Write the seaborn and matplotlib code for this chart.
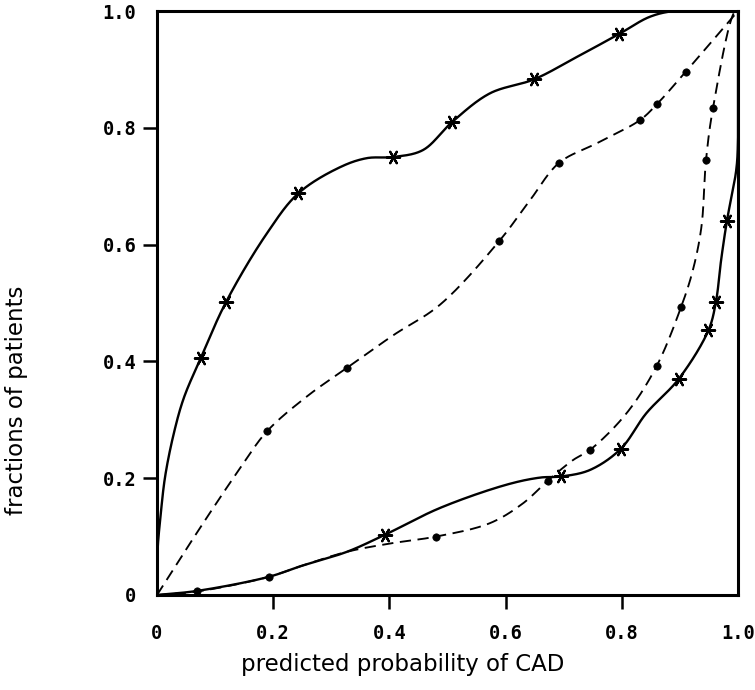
import numpy as np
import pandas as pd
import matplotlib
matplotlib.use("Agg")
import matplotlib.pyplot as plt
import seaborn as sns

# ---- data ----
# upper solid curve (asterisk markers)
us_path_x = [0, 0.001, 0.006, 0.014, 0.029, 0.046, 0.075, 0.119, 0.189, 0.2435, 0.316, 0.361, 0.407, 0.458, 0.508, 0.573, 0.649, 0.722, 0.796, 0.848, 0.89, 0.95, 1.0]
us_path_y = [0, 0.077, 0.134, 0.203, 0.277, 0.337, 0.405, 0.502, 0.619, 0.688, 0.733, 0.748, 0.750, 0.762, 0.810, 0.859, 0.883, 0.921, 0.961, 0.990, 1.0, 1.0, 1.0]
us_mark_x = [0.075, 0.119, 0.2435, 0.407, 0.508, 0.649, 0.796]
us_mark_y = [0.405, 0.502, 0.688, 0.750, 0.810, 0.883, 0.961]

# upper dashed curve (dot markers)
ud_path_x = [0, 0.05, 0.10, 0.145, 0.189, 0.258, 0.327, 0.407, 0.487, 0.589, 0.642, 0.692, 0.756, 0.831, 0.860, 0.910, 1.0]
ud_path_y = [0, 0.078, 0.154, 0.220, 0.280, 0.340, 0.389, 0.445, 0.497, 0.606, 0.676, 0.740, 0.773, 0.813, 0.840, 0.896, 1.0]
ud_mark_x = [0.189, 0.327, 0.589, 0.692, 0.831, 0.860, 0.910]
ud_mark_y = [0.280, 0.389, 0.606, 0.740, 0.813, 0.840, 0.896]

# lower dashed curve (dot markers)
ld_path_x = [0, 0.069, 0.192, 0.246, 0.327, 0.400, 0.480, 0.573, 0.630, 0.673, 0.716, 0.746, 0.808, 0.860, 0.902, 0.922, 0.937, 0.945, 0.957, 0.994, 1.0]
ld_path_y = [0, 0.006, 0.031, 0.049, 0.074, 0.088, 0.100, 0.123, 0.157, 0.196, 0.231, 0.249, 0.311, 0.392, 0.493, 0.555, 0.630, 0.745, 0.834, 0.998, 1.0]
ld_mark_x = [0.069, 0.192, 0.480, 0.673, 0.746, 0.860, 0.902, 0.945, 0.957]
ld_mark_y = [0.006, 0.031, 0.100, 0.196, 0.249, 0.392, 0.493, 0.745, 0.834]

# lower solid curve (asterisk markers)
ls_path_x = [0, 0.069, 0.192, 0.246, 0.327, 0.392, 0.487, 0.602, 0.659, 0.696, 0.745, 0.798, 0.842, 0.898, 0.949, 0.962, 0.971, 0.981, 0.997, 1.0, 1.0]
ls_path_y = [0, 0.007, 0.031, 0.049, 0.074, 0.103, 0.149, 0.189, 0.201, 0.203, 0.214, 0.250, 0.311, 0.370, 0.453, 0.502, 0.574, 0.641, 0.728, 0.78, 1.0]
ls_mark_x = [0.392, 0.696, 0.798, 0.898, 0.949, 0.962, 0.981]
ls_mark_y = [0.103, 0.203, 0.250, 0.370, 0.453, 0.502, 0.641]

tick_vals = [0, 0.2, 0.4, 0.6, 0.8, 1.0]
tick_labels = ["0", "0.2", "0.4", "0.6", "0.8", "1.0"]
x_label = "predicted probability of CAD"
y_label = "fractions of patients"


def smooth(xs, ys, n=40):
    """Centripetal Catmull-Rom rendering of a drawn curve through its points."""
    P = np.column_stack([xs, ys]).astype(float)
    P = np.vstack([2 * P[0] - P[1], P, 2 * P[-1] - P[-2]])
    out = []
    for i in range(1, len(P) - 2):
        p0, p1, p2, p3 = P[i - 1], P[i], P[i + 1], P[i + 2]
        t0 = 0.0
        t1 = t0 + max(np.linalg.norm(p1 - p0), 1e-9) ** 0.5
        t2 = t1 + max(np.linalg.norm(p2 - p1), 1e-9) ** 0.5
        t3 = t2 + max(np.linalg.norm(p3 - p2), 1e-9) ** 0.5
        t = np.linspace(t1, t2, n)[:, None]
        A1 = (t1 - t) / (t1 - t0) * p0 + (t - t0) / (t1 - t0) * p1
        A2 = (t2 - t) / (t2 - t1) * p1 + (t - t1) / (t2 - t1) * p2
        A3 = (t3 - t) / (t3 - t2) * p2 + (t - t2) / (t3 - t2) * p3
        B1 = (t2 - t) / (t2 - t0) * A1 + (t - t0) / (t2 - t0) * A2
        B2 = (t3 - t) / (t3 - t1) * A2 + (t - t1) / (t3 - t1) * A3
        C = (t2 - t) / (t2 - t1) * B1 + (t - t1) / (t2 - t1) * B2
        out.append(C if i == 1 else C[1:])
    S = np.vstack(out)
    return np.clip(S[:, 0], 0, 1), np.clip(S[:, 1], 0, 1)


sns.set_style("ticks")
plt.rcParams["font.family"] = ["DejaVu Sans"]
plt.rcParams["text.color"] = "black"
plt.rcParams["axes.labelcolor"] = "black"
plt.rcParams["xtick.color"] = "black"
plt.rcParams["ytick.color"] = "black"

fig = plt.figure(figsize=(7.55, 6.9), dpi=100)
ax = fig.add_axes([157 / 755, 1 - 595 / 690, (738 - 157) / 755, (595 - 11) / 690])

curves = [
    (us_path_x, us_path_y, "-", 1.7),
    (ud_path_x, ud_path_y, (0, (6, 3.5)), 1.35),
    (ld_path_x, ld_path_y, (0, (6, 3.5)), 1.35),
    (ls_path_x, ls_path_y, "-", 1.7),
]
for px, py, ls, lw in curves:
    sx, sy = smooth(px, py)
    df = pd.DataFrame({"x": sx, "y": sy})
    sns.lineplot(data=df, x="x", y="y", sort=False, estimator=None, color="black",
                 linestyle=ls, linewidth=lw, ax=ax)

for mx, my in [(us_mark_x, us_mark_y), (ls_mark_x, ls_mark_y)]:
    sns.scatterplot(x=mx, y=my, marker=(6, 2, 30), s=90, color="black",
                    linewidth=1.6, ax=ax, zorder=5)
for mx, my in [(ud_mark_x, ud_mark_y), (ld_mark_x, ld_mark_y)]:
    sns.scatterplot(x=mx, y=my, marker="o", s=28, color="black",
                    edgecolor="black", linewidth=0.5, ax=ax, zorder=5)

ax.set_xlim(0, 1)
ax.set_ylim(0, 1)
for s in ax.spines.values():
    s.set_linewidth(2.2)
    s.set_color("black")
ax.set_xticks(tick_vals)
ax.set_yticks(tick_vals)
ax.set_xticklabels(tick_labels, family="DejaVu Sans Mono", weight="bold", fontsize=13.5)
ax.set_yticklabels(tick_labels, family="DejaVu Sans Mono", weight="bold", fontsize=13.5)
ax.tick_params(axis="both", direction="out", length=10, width=1.8, color="black")
ax.tick_params(axis="x", pad=11)
ax.tick_params(axis="y", pad=5)
for t in (ax.xaxis.get_major_ticks()[0], ax.xaxis.get_major_ticks()[-1],
          ax.yaxis.get_major_ticks()[0], ax.yaxis.get_major_ticks()[-1]):
    t.tick1line.set_visible(False)

ax.set_xlabel(x_label, fontsize=16.5)
ax.set_ylabel(y_label, fontsize=16.5)
ax.xaxis.set_label_coords(0.423, -0.100)
ax.yaxis.set_label_coords(-0.222, 0.334)

fig.savefig("out.png", dpi=100)
